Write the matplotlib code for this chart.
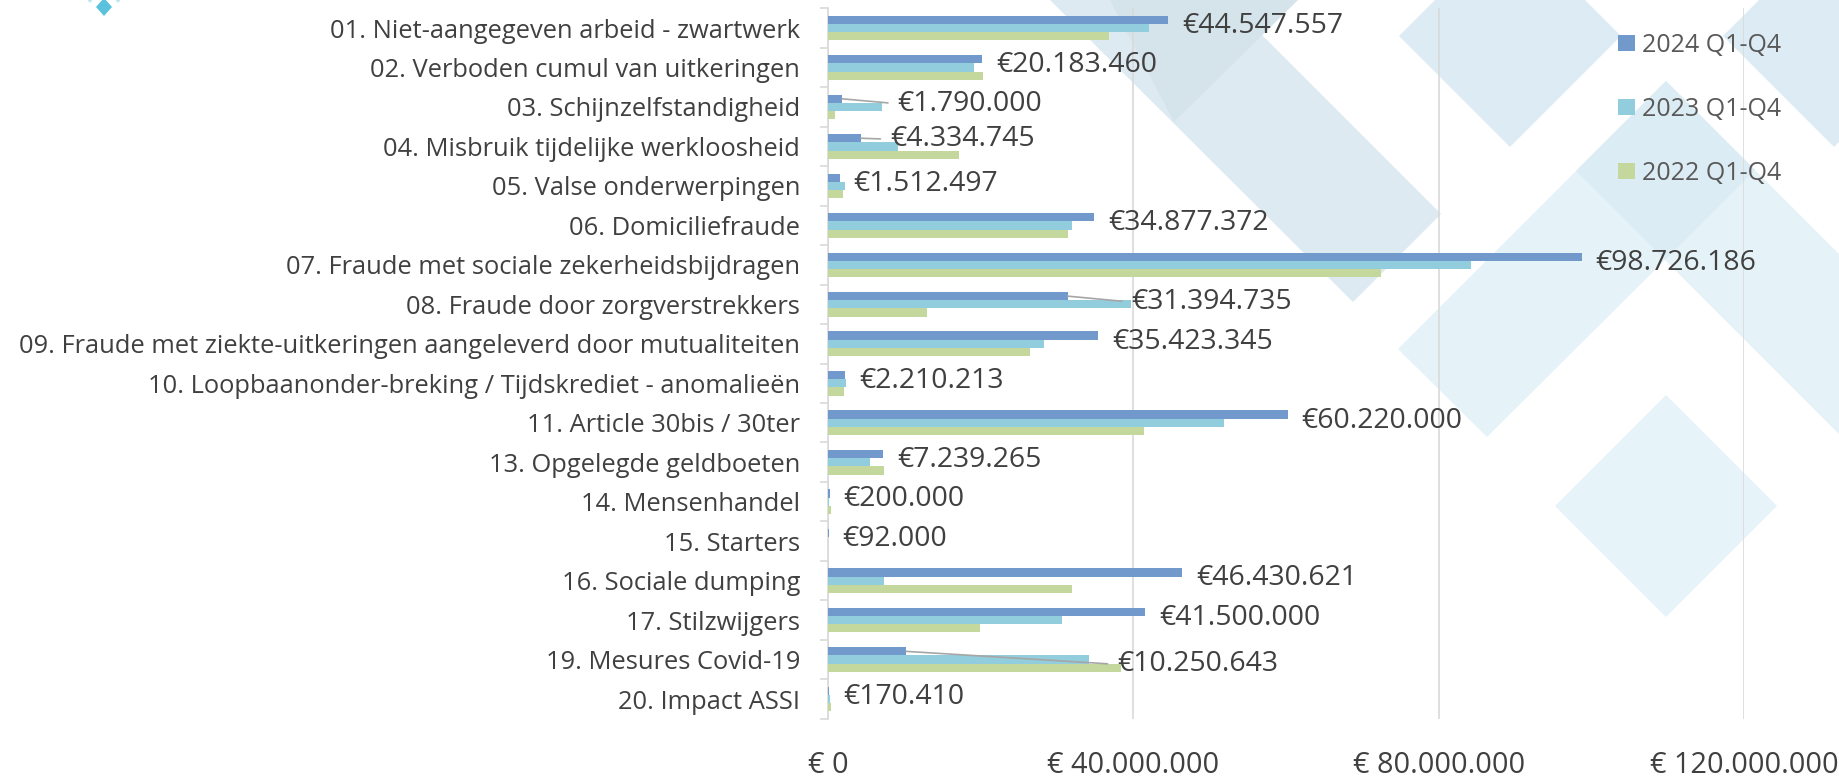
import matplotlib
matplotlib.use("Agg")
import matplotlib.pyplot as plt
from matplotlib.patches import Polygon, Patch
import numpy as np

plt.rcParams["font.family"] = ["Open Sans", "DejaVu Sans"]

# ---- data -------------------------------------------------------------
categories = [
    "01. Niet-aangegeven arbeid - zwartwerk",
    "02. Verboden cumul van uitkeringen",
    "03. Schijnzelfstandigheid",
    "04. Misbruik tijdelijke werkloosheid",
    "05. Valse onderwerpingen",
    "06. Domiciliefraude",
    "07. Fraude met sociale zekerheidsbijdragen",
    "08. Fraude door zorgverstrekkers",
    "09. Fraude met ziekte-uitkeringen aangeleverd door mutualiteiten",
    "10. Loopbaanonder-breking / Tijdskrediet - anomalieën",
    "11. Article 30bis / 30ter",
    "13. Opgelegde geldboeten",
    "14. Mensenhandel",
    "15. Starters",
    "16. Sociale dumping",
    "17. Stilzwijgers",
    "19. Mesures Covid-19",
    "20. Impact ASSI",
]

v2024 = [44547557, 20183460, 1790000, 4334745, 1512497, 34877372, 98726186,
         31394735, 35423345, 2210213, 60220000, 7239265, 200000, 92000,
         46430621, 41500000, 10250643, 170410]
v2023 = [42.0e6, 19.1e6, 7.1e6, 9.2e6, 2.25e6, 32.0e6, 84.3e6, 39.7e6, 28.3e6,
         2.4e6, 51.9e6, 5.5e6, 0.1e6, 0, 7.4e6, 30.7e6, 34.2e6, 0.2e6]
v2022 = [36.8e6, 20.3e6, 0.92e6, 17.1e6, 2.0e6, 31.5e6, 72.4e6, 12.95e6, 26.4e6,
         2.04e6, 41.45e6, 7.36e6, 0.4e6, 0, 31.95e6, 19.9e6, 38.4e6, 0.45e6]

series_labels = ["2024 Q1-Q4", "2023 Q1-Q4", "2022 Q1-Q4"]
x_ticks = [0, 40_000_000, 80_000_000, 120_000_000]

# ---- style ------------------------------------------------------------
W, H = 1839, 777
c2024, c2023, c2022 = "#7199CC", "#92CDDD", "#C4D79C"
text_col = "#404040"
grid_col = "#D9D9D9"
leader_col = "#A6A6A6"

# label offsets (pixels) for the 2024 values; some carry a leader line
default_offset = (14, -6)
leader_offsets = {2: (56, -5), 3: (29, -1), 7: (64, -6), 16: (211, -13)}


def euro(v, space=False):
    s = f"{int(round(v)):,}".replace(",", ".")
    return ("€ " if space else "€") + s


def fig_xy(x, y):
    return (x / W, 1 - y / H)


fig = plt.figure(figsize=(W / 100, H / 100), dpi=100)

# decorative background shapes (pixel coordinates, origin top-left)
bg_shapes = [
    ([(1050, 0), (1227, 0), (1441, 214), (1353, 302)], "#DDEAF1"),
    ([(1110, 0), (1298, 0), (1174, 122)], "#D5E3EB"),
    ([(1399, 36), (1510, -75), (1621, 36), (1510, 147)], "#DDECF4"),
    ([(1723, 36), (1834, -75), (1945, 36), (1834, 147)], "#DDECF4"),
    ([(1398, 349), (1666, 81), (1860, 275), (1860, 455), (1665, 260), (1487, 437)], "#E5F3F8"),
    ([(1666, 81), (1755, 170), (1665, 260), (1576, 171)], "#DCECF4"),
    ([(1555, 506), (1666, 395), (1777, 506), (1666, 617)], "#E6F3F8"),
]
for pts, col in bg_shapes:
    fig.add_artist(Polygon([fig_xy(x, y) for x, y in pts], closed=True,
                           transform=fig.transFigure, facecolor=col,
                           edgecolor="none", zorder=-10))

# small logo diamonds in the top-left corner
for cx, cy, r, col in [(104, 7, 8, "#5BC2DE"), (90, -3, 5, "#BFE5F0"), (118, -3, 5, "#BFE5F0")]:
    fig.add_artist(Polygon([fig_xy(cx - r, cy), fig_xy(cx, cy - r - 1),
                            fig_xy(cx + r, cy), fig_xy(cx, cy + r + 1)],
                           closed=True, transform=fig.transFigure,
                           facecolor=col, edgecolor="none", zorder=-9))

# plot area
left, right, top, bottom = 828, 1744, 8.3, 718.8
ax = fig.add_axes([left / W, 1 - bottom / H, (right - left) / W, (bottom - top) / H])
ax.set_facecolor("none")

n = len(categories)
y = np.arange(n)
h = 0.208

ax.barh(y - h, v2024, height=h, color=c2024, label=series_labels[0], zorder=3)
ax.barh(y, v2023, height=h, color=c2023, label=series_labels[1], zorder=3)
ax.barh(y + h, v2022, height=h, color=c2022, label=series_labels[2], zorder=3)

ax.set_xlim(0, x_ticks[-1])
ax.set_ylim(n - 0.5, -0.5)

# value labels for 2024
for i, v in enumerate(v2024):
    if i in leader_offsets:
        ax.annotate(euro(v), xy=(v, i - h), xytext=leader_offsets[i],
                    textcoords="offset pixels", ha="left", va="center",
                    fontsize=20.4, color=text_col, zorder=5,
                    arrowprops=dict(arrowstyle="-", color=leader_col, lw=1.2,
                                    shrinkA=5, shrinkB=0, relpos=(0, 0.5)))
    else:
        ax.annotate(euro(v), xy=(v, i - h), xytext=default_offset,
                    textcoords="offset pixels", ha="left", va="center",
                    fontsize=20.4, color=text_col, zorder=5)

# axes styling
for s in ("top", "right", "bottom"):
    ax.spines[s].set_visible(False)
ax.spines["left"].set_color(grid_col)
ax.spines["left"].set_linewidth(1.2)

ax.set_xticks(x_ticks)
ax.set_xticklabels([euro(t, space=True) for t in x_ticks])
ax.tick_params(axis="x", length=0, pad=23, labelsize=20.8, labelcolor=text_col)
ax.xaxis.grid(True, color=grid_col, linewidth=1.2)
ax.set_axisbelow(True)

ax.set_yticks(np.arange(n + 1) - 0.5)
ax.set_yticklabels([])
ax.tick_params(axis="y", which="major", length=6, width=1.2, color=grid_col)
ax.set_yticks(y, minor=True)
ax.set_yticklabels(categories, minor=True)
ax.tick_params(axis="y", which="minor", length=0, pad=20, labelsize=18.4,
               labelcolor=text_col)

handles = [Patch(facecolor=c, edgecolor="none") for c in (c2024, c2023, c2022)]
fig.legend(handles, series_labels, loc="upper left",
           bbox_to_anchor=fig_xy(1618, 33), bbox_transform=fig.transFigure,
           frameon=False, fontsize=18, labelcolor="#595959",
           handlelength=0.66, handleheight=0.64, handletextpad=0.3,
           labelspacing=1.56, borderpad=0, borderaxespad=0)

fig.savefig("out.png", dpi=100)
